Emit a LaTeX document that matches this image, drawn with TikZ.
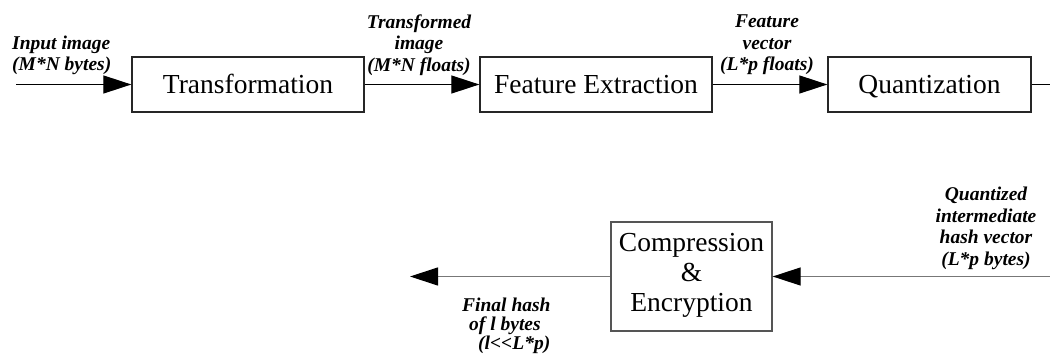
\documentclass[tikz,border=0pt]{standalone}
\usepackage{fontspec}
\setmainfont{Liberation Serif}
\usetikzlibrary{arrows.meta}
\definecolor{linegray}{HTML}{777777}
\definecolor{boxgray}{HTML}{555555}
\begin{document}
\begin{tikzpicture}[x=1pt,y=1pt,
  blk/.style={draw=#1, line width=1.3pt, rectangle, inner sep=0pt, align=center,
    font=\fontsize{27.5}{30}\selectfont},
  blk/.default=black!85,
  topblk/.style={blk, minimum height=55pt, text height=19pt, text depth=0pt},
  lbl/.style={font=\fontsize{19.5}{21.5}\selectfont\bfseries\itshape, inner sep=0pt},
  conn/.style={draw=#1, line width=1.2pt, -{Triangle[length=28pt,width=18pt,color=black]}},
  conn/.default=black,
  plain/.style={draw=#1, line width=1.2pt},
  plain/.default=black
]
\useasboundingbox (0,0) rectangle (1050,354);
% top row
\node[topblk, minimum width=232pt] (T)  at (248,269.5) {Transformation};
\node[topblk, minimum width=232pt] (FE) at (596,269.5) {Feature Extraction};
\node[topblk, minimum width=203pt] (Q)  at (929.5,269.5) {Quantization};
% bottom row
\node[blk=boxgray, minimum width=161pt, minimum height=109pt] (C) at (691.5,77.5)
  {Compression\\\&\\Encryption\rule[-9pt]{0pt}{9pt}};
% free ends
\coordinate (in)   at (16,269.5);
\coordinate (qout) at (1050,269.5);
\coordinate (cin)  at (1050,77.5);
\coordinate (out)  at (410,77.5);
% connectors
\draw[conn] (in) -- (T.west);
\draw[conn] (T.east) -- (FE.west);
\draw[conn] (FE.east) -- (Q.west);
\draw[plain] (Q.east) -- (qout);
\draw[conn=linegray] (cin) -- (C.east);
\draw[conn=linegray] (C.west) -- (out);
% labels
\node[lbl, align=left, anchor=west] (l1) at (12,298.5) {Input image\\(M*N bytes)};
\node[lbl, align=center] (l2) at (419,309) {Transformed\\image\\(M*N floats)};
\node[lbl, align=center] (l3) at (767,309) {Feature\\vector\\(L*p floats)};
\node[lbl, align=center] (l4) at (986,125.5) {Quantized\\intermediate\\hash vector\\(L*p bytes)};
\node[lbl, align=left, anchor=west, font=\fontsize{19.5}{19}\selectfont\bfseries\itshape] (l5) at (462,28)
  {Final hash\\\hspace*{7pt}of l bytes\\\hspace*{16pt}(l<{}<L*p)};
\end{tikzpicture}
\end{document}
